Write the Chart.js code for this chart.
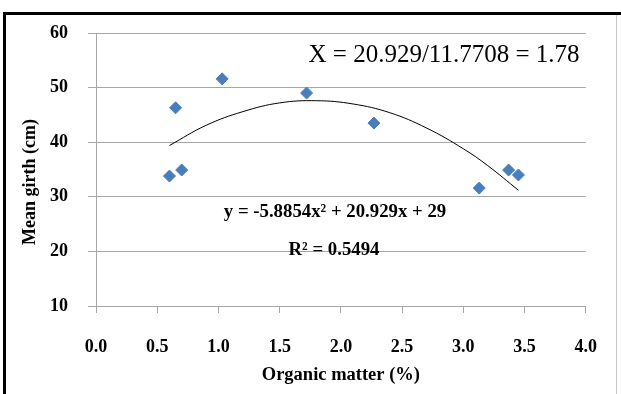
<!DOCTYPE html>
<html>
<head>
<meta charset="utf-8">
<script src="https://cdn.jsdelivr.net/npm/chart.js@4.4.1/dist/chart.umd.min.js"></script>
<style>
  html, body { margin: 0; padding: 0; background: #fff; }
  #wrap { width: 621px; height: 394px; position: relative; }
</style>
</head>
<body>
<div id="wrap"><canvas id="myChart" width="621" height="394"></canvas></div>
<script>
// organic matter (%) and mean girth (cm)
var organicMatter = [0.60, 0.65, 0.70, 1.03, 1.72, 2.27, 3.13, 3.37, 3.45];
var meanGirth     = [33.8, 46.3, 34.9, 51.6, 49.0, 43.5, 31.6, 34.9, 34.0];

// polynomial trend line
var trendX = [0.60, 0.90, 1.20, 1.50, 1.80, 2.10, 2.40, 2.70, 3.00, 3.20, 3.45];
var trendY = [39.4, 43.1, 45.6, 47.2, 47.6, 47.0, 45.4, 42.6, 38.8, 35.7, 31.2];

var xTickLabels = ["0.0", "0.5", "1.0", "1.5", "2.0", "2.5", "3.0", "3.5", "4.0"];

var serif = "'Liberation Serif', 'Times New Roman', serif";
var gridColor = "#a6a6a6";

function toPoints(xs, ys){
    return xs.map(function(x, i){ return {x: x, y: ys[i]}; });
}

var decor = {
    id: "decor",
    beforeDraw: function(chart){
        var c = chart.ctx;
        c.save();
        c.fillStyle = "#fff";
        c.fillRect(0, 0, chart.width, chart.height);
        // frame
        c.fillStyle = "#000";
        c.fillRect(3, 12, 618, 3);
        c.fillRect(3, 12, 3, 382);
        c.fillStyle = "#c8c8c8";
        c.fillRect(616, 15, 1, 379);
        c.restore();
    },
    afterDatasetsDraw: function(chart){
        var c = chart.ctx;
        c.save();
        c.fillStyle = "#000";
        c.textAlign = "center";
        c.textBaseline = "alphabetic";
        c.font = "25px " + serif;
        c.fillText("X = 20.929/11.7708 = 1.78", 444, 62);
        c.font = "bold 18.8px " + serif;
        c.fillText("y = -5.8854x\u00B2 + 20.929x + 29", 335, 217);
        c.fillText("R\u00B2 = 0.5494", 334, 255);
        // y axis title
        c.translate(30, 182);
        c.rotate(-Math.PI / 2);
        c.textBaseline = "middle";
        c.font = "bold 18px " + serif;
        c.fillText("Mean girth (cm)", 0, 0);
        c.restore();
    }
};

var ctx = document.getElementById("myChart").getContext("2d");
var chart = new Chart(ctx, {
    type: "scatter",
    data: {
        datasets: [{
            label: "Mean girth",
            data: toPoints(organicMatter, meanGirth),
            pointStyle: "rectRot",
            pointRadius: 6,
            pointBackgroundColor: "#4a7ebb",
            pointBorderColor: "#4a7ebb",
            pointBorderWidth: 1,
            order: 1
        },{
            label: "Poly. trend",
            type: "line",
            data: toPoints(trendX, trendY),
            borderColor: "#000",
            borderWidth: 1,
            pointRadius: 0,
            tension: 0.4,
            fill: false,
            order: 2
        }]
    },
    options: {
        responsive: false,
        animation: false,
        layout: { padding: { left: 0, right: 35, top: 33, bottom: 0 } },
        plugins: {
            legend: { display: false },
            tooltip: { enabled: false }
        },
        scales: {
            x: {
                type: "linear",
                min: 0,
                max: 4,
                afterFit: function(scale){ scale.height = 88; },
                afterBuildTicks: function(scale){
                    scale.ticks = xTickLabels.map(function(t){ return {value: parseFloat(t)}; });
                },
                ticks: {
                    color: "#000",
                    padding: 24,
                    maxRotation: 0,
                    font: { family: serif, size: 18, weight: "bold" },
                    callback: function(v, i){ return xTickLabels[i]; }
                },
                grid: {
                    drawOnChartArea: false,
                    drawTicks: true,
                    tickLength: 7,
                    color: gridColor
                },
                border: { display: true, color: gridColor },
                title: {
                    display: true,
                    text: "Organic matter (%)",
                    color: "#000",
                    font: { family: serif, size: 18.5, weight: "bold" },
                    padding: { top: 0, bottom: 8 }
                }
            },
            y: {
                min: 10,
                max: 60,
                afterFit: function(scale){ scale.width = 96; },
                ticks: {
                    stepSize: 10,
                    color: "#000",
                    padding: 20,
                    font: { family: serif, size: 18, weight: "bold" }
                },
                grid: {
                    color: gridColor,
                    tickLength: 8
                },
                border: { display: true, color: gridColor }
            }
        }
    },
    plugins: [decor]
});
</script>
</body>
</html>
